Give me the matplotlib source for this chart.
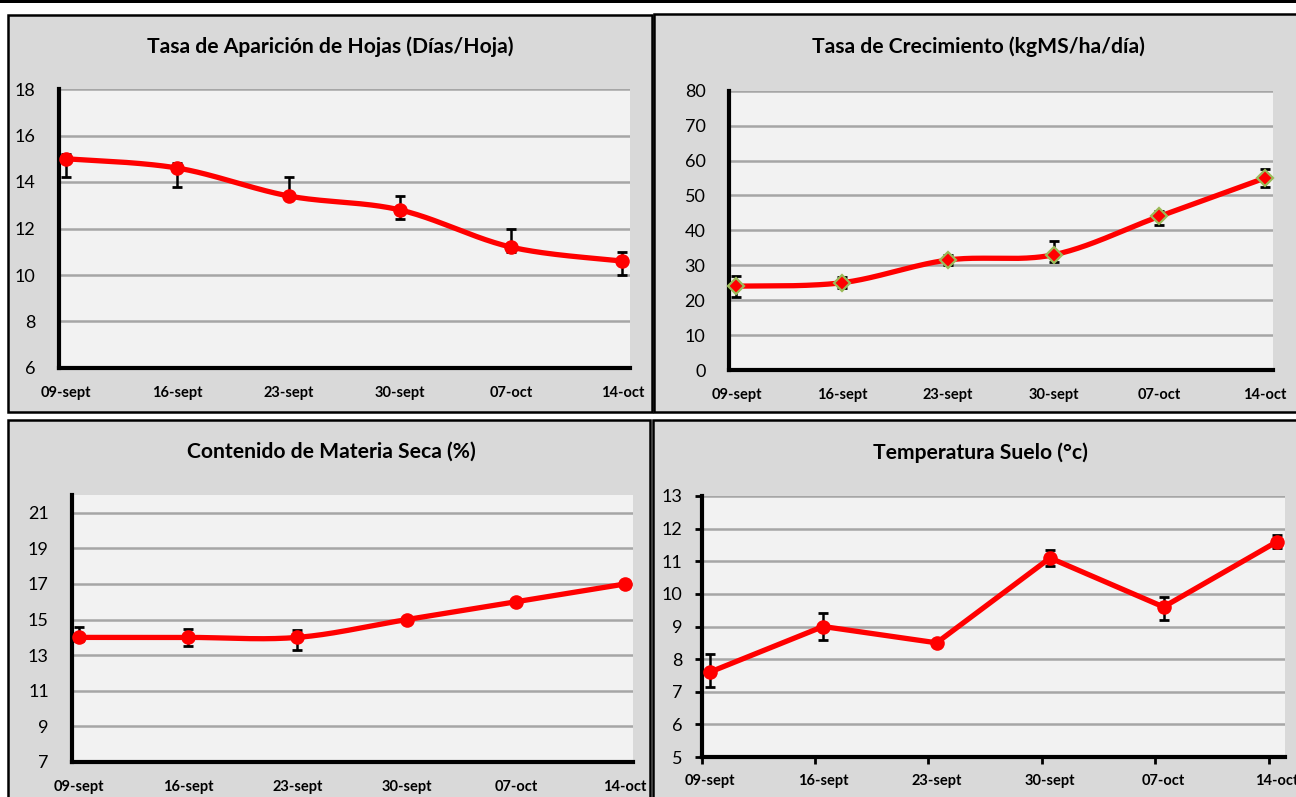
import numpy as np
import matplotlib
matplotlib.use("Agg")
import matplotlib.pyplot as plt
from matplotlib.patches import Rectangle

# ---------------- data ----------------
dates = ["09-sept", "16-sept", "23-sept", "30-sept", "07-oct", "14-oct"]

hojas = [15.0, 14.6, 13.4, 12.8, 11.2, 10.6]
hojas_lo = [14.2, 13.8, 13.3, 12.4, 11.0, 10.0]
hojas_hi = [15.2, 14.8, 14.2, 13.4, 12.0, 11.0]

crec = [24.0, 25.0, 31.5, 33.0, 44.0, 55.0]
crec_lo = [21.0, 23.5, 30.0, 31.0, 41.5, 52.5]
crec_hi = [27.0, 26.5, 33.0, 37.0, 45.5, 57.5]

ms = [14.0, 14.0, 14.0, 15.0, 16.0, 17.0]
ms_lo = [13.8, 13.5, 13.3, 14.9, 15.9, 16.9]
ms_hi = [14.6, 14.5, 14.4, 15.1, 16.1, 17.1]

temp = [7.6, 9.0, 8.5, 11.1, 9.6, 11.6]
temp_lo = [7.15, 8.6, 8.4, 10.85, 9.2, 11.4]
temp_hi = [8.15, 9.4, 8.6, 11.35, 9.9, 11.8]

titles = ["Tasa de Aparición de Hojas (Días/Hoja)",
          "Tasa de Crecimiento (kgMS/ha/día)",
          "Contenido de Materia Seca (%)",
          "Temperatura Suelo (°c)"]

W, H = 1296, 797
FONT = ["Lato", "DejaVu Sans"]
RED = "#FF0000"

fig = plt.figure(figsize=(W / 100, H / 100), dpi=100)
fig.patch.set_facecolor("white")


def fx(x):
    return x / W


def fy(y):
    return 1 - y / H


def box(x0, y0, x1, y1):
    fig.add_artist(Rectangle((fx(x0), fy(y1)), fx(x1) - fx(x0), fy(y0) - fy(y1),
                             transform=fig.transFigure, facecolor="#D9D9D9",
                             edgecolor="black", linewidth=1.8, zorder=0))


def axes_px(x0, y0, x1, y1):
    ax = fig.add_axes([fx(x0), fy(y1), fx(x1) - fx(x0), fy(y0) - fy(y1)])
    ax.set_facecolor("#F2F2F2")
    return ax


def smooth(x, y, n=40):
    P = np.column_stack([np.asarray(x, float), np.asarray(y, float)])
    Pe = np.vstack([P[0], P, P[-1]])
    out = []
    t = np.linspace(0, 1, n)[:, None]
    for i in range(len(P) - 1):
        p0, p3 = P[i], P[i + 1]
        c1 = p0 + (Pe[i + 2] - Pe[i]) / 6.0
        c2 = p3 - (Pe[i + 3] - Pe[i + 1]) / 6.0
        seg = (1 - t) ** 3 * p0 + 3 * (1 - t) ** 2 * t * c1 + 3 * (1 - t) * t ** 2 * c2 + t ** 3 * p3
        out.append(seg if i == 0 else seg[1:])
    return np.vstack(out)


def style(ax, ylim, yticks, xlim, ticks_out=False):
    ax.set_ylim(*ylim)
    ax.set_xlim(*xlim)
    ax.set_yticks(yticks)
    ax.set_yticklabels([str(v) for v in yticks], fontfamily=FONT, fontsize=13)
    x = np.arange(len(dates))
    ax.set_xticks(x)
    ax.set_xticklabels(dates, fontfamily=FONT, fontsize=10.5, fontweight="bold")
    for s in ["top", "right"]:
        ax.spines[s].set_visible(False)
    for s in ["left", "bottom"]:
        ax.spines[s].set_linewidth(3)
        ax.spines[s].set_color("black")
        ax.spines[s].set_zorder(5)
    ax.grid(axis="y", color="#A6A6A6", linewidth=1.8)
    ax.set_axisbelow(True)
    if ticks_out:
        ax.tick_params(axis="x", length=0, pad=12)
        ax.set_xticks(x - 0.072, minor=True)
        ax.tick_params(axis="x", which="minor", length=5, width=2, direction="out")
        ax.tick_params(axis="y", length=5, width=2, direction="out", pad=9)
    else:
        ax.tick_params(axis="x", length=0, pad=13)
        ax.tick_params(axis="y", length=0, pad=17)


def draw(ax, y, lo, hi, smooth_line=True, marker="o", ms=10.5, mec=RED, mew=0):
    x = np.arange(len(y))
    y = np.asarray(y, float)
    err = [y - np.asarray(lo), np.asarray(hi) - y]
    ax.errorbar(x, y, yerr=err, fmt="none", ecolor="black", elinewidth=1.8,
                capsize=3.5, capthick=2, zorder=3, clip_on=False)
    if smooth_line:
        c = smooth(x, y)
        ax.plot(c[:, 0], c[:, 1], color=RED, linewidth=3.8, zorder=4,
                solid_capstyle="round", clip_on=False)
    else:
        ax.plot(x, y, color=RED, linewidth=3.8, zorder=4, solid_joinstyle="miter",
                clip_on=False)
    ax.plot(x, y, linestyle="none", marker=marker, markersize=ms,
            markerfacecolor=RED, markeredgecolor=mec, markeredgewidth=mew,
            zorder=6, clip_on=False)


# panel frames
box(7.5, 15, 652, 412)
box(654, 14, 1302, 412)
box(7.5, 420, 650, 802)
box(653, 420, 1302, 802)
fig.add_artist(Rectangle((0, fy(3)), 1, fy(0) - fy(3), transform=fig.transFigure,
                         facecolor="black", edgecolor="none", zorder=1))

# panel 1
ax1 = axes_px(59, 89, 630, 368)
style(ax1, (6, 18), list(range(6, 19, 2)), (-0.065, 5.07))
draw(ax1, hojas, hojas_lo, hojas_hi)

# panel 2
ax2 = axes_px(729, 90.7, 1272.5, 370)
style(ax2, (0, 80), list(range(0, 81, 10)), (-0.07, 5.07))
draw(ax2, crec, crec_lo, crec_hi, marker="D", ms=8.5, mec="#9BBB59", mew=1.6)

# panel 3
ax3 = axes_px(72.4, 495, 632.6, 762)
style(ax3, (7, 22), list(range(7, 22, 2)), (-0.06, 5.07))
draw(ax3, ms, ms_lo, ms_hi)

# panel 4
ax4 = axes_px(701.5, 496, 1284.5, 757)
style(ax4, (5, 13), list(range(5, 14, 1)), (-0.072, 5.066), ticks_out=True)
draw(ax4, temp, temp_lo, temp_hi, smooth_line=False)

# titles
for (cx, cy), t in zip([(330, 47), (978, 47), (331, 452), (980, 453)], titles):
    fig.text(fx(cx), fy(cy), t, ha="center", va="center", fontfamily=FONT,
             fontsize=15.2, fontweight="bold", color="black")

fig.savefig("out.png", dpi=100, facecolor=fig.get_facecolor())
